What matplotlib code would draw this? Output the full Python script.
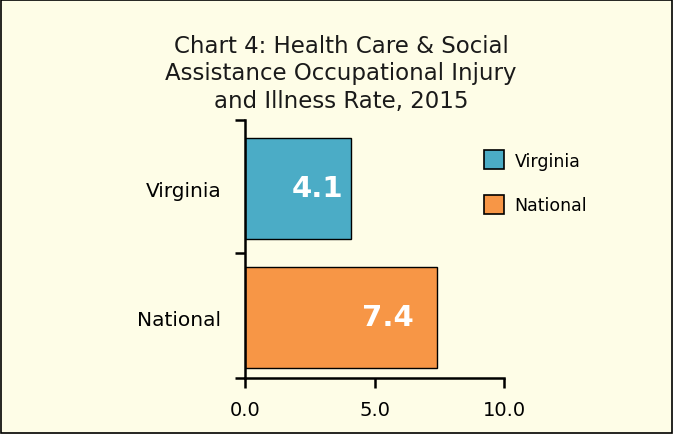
import matplotlib.pyplot as plt
plt.switch_backend('Agg')
from matplotlib.patches import Rectangle, Patch

plt.rcParams.update({
    'font.family': 'DejaVu Sans',
    'font.size': 12,
})

categories = ['Virginia', 'National']
values = [4.1, 7.4]
colors = ['#4BACC6', '#F79646']
xticks = [0, 5, 10]
xticklabels = ['0.0', '5.0', '10.0']
title = 'Chart 4: Health Care & Social\nAssistance Occupational Injury\nand Illness Rate, 2015'

bg = '#FEFDE7'
fig = plt.figure(figsize=(6.73, 4.35), dpi=100, facecolor=bg)
fig.patches.append(Rectangle((0.001, 0.002), 0.997, 0.995, transform=fig.transFigure,
                             fill=False, edgecolor='black', linewidth=1.2))
ax = fig.add_axes([0.364, 0.129, 0.385, 0.593])
ax.set_facecolor(bg)

ypos = [1, 0]
ax.barh(ypos, values, height=0.78, color=colors, edgecolor='black', linewidth=1)
for y, v in zip(ypos, values):
    ax.text(v * 0.82 - 0.55, y, '%.1f' % v, ha='center', va='center', color='white',
            fontsize=21, fontweight='bold')

ax.set_xlim(0, 10)
ax.set_ylim(-0.47, 1.53)
ax.set_xticks(xticks)
ax.set_xticklabels(xticklabels, fontsize=14)
ax.set_yticks([-0.47, 0.5, 1.53])
ax.set_yticklabels([])
ax.set_yticks(ypos, minor=True)
ax.set_yticklabels(categories, minor=True, fontsize=14.5)
ax.tick_params(axis='y', which='minor', length=0, pad=17)
ax.tick_params(axis='both', which='major', length=7, width=1.8, direction='out')
ax.tick_params(axis='x', pad=9)
for s in ['top', 'right']:
    ax.spines[s].set_visible(False)
for s in ['left', 'bottom']:
    ax.spines[s].set_linewidth(1.8)

handles = [Patch(facecolor=c, edgecolor='black', linewidth=1.2, label=n)
           for c, n in zip(colors, categories)]
fig.legend(handles=handles, loc='upper left', bbox_to_anchor=(0.696, 0.688), frameon=False,
           fontsize=12.5, handlelength=1.15, handleheight=1.3, labelspacing=1.45,
           handletextpad=0.6)

fig.text(0.507, 0.92, title, ha='center', va='top', fontsize=16.5, linespacing=1.25,
         color='#1a1a1a')

fig.savefig('out.png', dpi=100, facecolor=bg)
